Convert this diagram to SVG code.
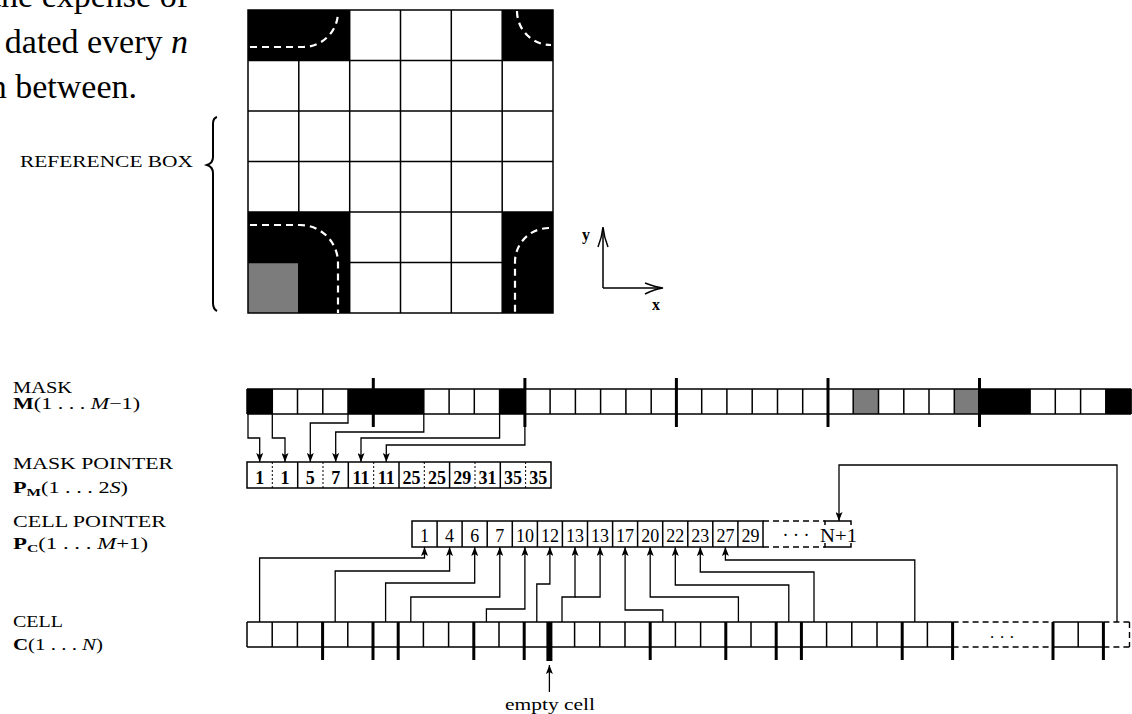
<svg xmlns="http://www.w3.org/2000/svg" width="1132" height="714" viewBox="0 0 1132 714">
<defs>
<style>
text{font-family:"Liberation Serif","Times New Roman",serif;fill:#000}
.ln{stroke:#000;stroke-width:1.5;fill:none}
.thk{stroke:#000;stroke-width:3;fill:none}
.conn{stroke:#000;stroke-width:1.3;fill:none;marker-end:url(#ah)}
.dsh{stroke:#000;stroke-width:1.4;stroke-dasharray:6 4;fill:none}
.dot{stroke:#000;stroke-width:1;stroke-dasharray:2 2;fill:none}
.wd{stroke:#fff;stroke-width:2.2;stroke-dasharray:7 5;fill:none}
.blk{fill:#000}
.gry{fill:#7c7c7c}
.cap{font-size:16px}
.num{font-size:18px;text-anchor:middle}
.nb{font-size:18px;font-weight:bold;text-anchor:middle}
.body{font-size:34px;text-anchor:end}
</style>
<marker id="ah" markerUnits="userSpaceOnUse" markerWidth="9" markerHeight="7" viewBox="0 0 9 7" refX="9" refY="3.5" orient="auto">
<path d="M0,0 L9,3.5 L0,7 L2,3.5 z" fill="#000"/>
</marker>
</defs>
<rect width="1132" height="714" fill="#fff"/>

<g id="body-text">
<text class="body" x="188" y="7">the expense of</text>
<text class="body" x="188" y="53">dated every <tspan font-style="italic">n</tspan></text>
<text class="body" x="137" y="98">n between.</text>
</g>

<g id="reference-label">
<text x="20" y="167" font-size="17" textLength="173" lengthAdjust="spacingAndGlyphs">REFERENCE BOX</text>
<path d="M217,117 Q213,118 213,124 L213,157 Q213,163 207,165 Q213,167 213,173 L213,303 Q213,309 217,311" stroke="#000" stroke-width="2" fill="none"/>
</g>

<g id="grid">
<rect x="248" y="10" width="305" height="303" fill="#fff"/>
<rect x="248" y="10" width="102" height="50.5" class="blk"/>
<rect x="502.2" y="10" width="50.8" height="50.5" class="blk"/>
<rect x="248" y="212" width="102" height="101" class="blk"/>
<rect x="502.2" y="212" width="50.8" height="101" class="blk"/>
<rect x="248" y="262.5" width="50.8" height="50.5" class="gry"/>
<path class="ln" d="M298.8,60.5V313M349.7,10V313M400.5,10V313M451.3,10V313M502.2,10V313M248,60.5H553M248,111H553M248,161.5H553M248,212H553M248,262.5H553"/>
<rect x="248" y="10" width="305" height="303" class="ln" stroke-width="1.7"/>
<path class="wd" d="M250,47 H303 A35,35 0 0 0 338,12"/>
<path class="wd" d="M517,11 A34,34 0 0 0 551,45"/>
<path class="wd" d="M250,225 H300 A38,38 0 0 1 338,263 V313"/>
<path class="wd" d="M549,228 A34,34 0 0 0 515,262 V313"/>
</g>

<g id="axes">
<path class="ln" d="M603,288 V229 M603,288 H661"/>
<path class="ln" d="M598,247 Q602,237 603,227 Q604,237 608,247"/>
<path class="ln" d="M645,283 Q655,287 663,288 Q655,289 645,294"/>
<text x="582" y="240" font-size="16" font-weight="bold">y</text>
<text x="652" y="310" font-size="16" font-weight="bold">x</text>
</g>

<g id="row-labels">
<text class="cap" x="13" y="393" textLength="59" lengthAdjust="spacingAndGlyphs">MASK</text>
<text x="13" y="409" font-size="16" textLength="127" lengthAdjust="spacingAndGlyphs"><tspan font-weight="bold">M</tspan>(1 . . . <tspan font-style="italic">M</tspan>−1)</text>
<text class="cap" x="13" y="469" textLength="160" lengthAdjust="spacingAndGlyphs">MASK POINTER</text>
<text x="13" y="493" font-size="16" textLength="115" lengthAdjust="spacingAndGlyphs"><tspan font-weight="bold">P</tspan><tspan font-weight="bold" font-size="11" dy="3">M</tspan><tspan dy="-3">(1 . . . 2</tspan><tspan font-style="italic">S</tspan>)</text>
<text class="cap" x="13" y="527" textLength="153" lengthAdjust="spacingAndGlyphs">CELL POINTER</text>
<text x="13" y="549" font-size="16" textLength="135" lengthAdjust="spacingAndGlyphs"><tspan font-weight="bold">P</tspan><tspan font-weight="bold" font-size="11" dy="3">C</tspan><tspan dy="-3">(1 . . . </tspan><tspan font-style="italic">M</tspan>+1)</text>
<text class="cap" x="13" y="627" textLength="50" lengthAdjust="spacingAndGlyphs">CELL</text>
<text x="13" y="650" font-size="16" textLength="90" lengthAdjust="spacingAndGlyphs"><tspan font-weight="bold">C</tspan>(1 . . . <tspan font-style="italic">N</tspan>)</text>
</g>

<g id="mask">
<rect x="247" y="389" width="25.3" height="25" class="blk"/>
<rect x="348" y="389" width="75.8" height="25" class="blk"/>
<rect x="499.6" y="389" width="25.3" height="25" class="blk"/>
<rect x="853.2" y="389" width="25.3" height="25" class="gry"/>
<rect x="954.3" y="389" width="25.3" height="25" class="gry"/>
<rect x="979.5" y="389" width="50.6" height="25" class="blk"/>
<rect x="1105.8" y="389" width="25.3" height="25" class="blk"/>
<path class="ln" d="M247,389H1131.1M247,414H1131.1M247,389V414M1131.1,389V414M272.3,389V414M297.5,389V414M322.8,389V414M348,389V414M398.6,389V414M423.8,389V414M449.1,389V414M474.3,389V414M499.6,389V414M550.1,389V414M575.4,389V414M600.6,389V414M625.9,389V414M651.2,389V414M701.7,389V414M726.9,389V414M752.2,389V414M777.5,389V414M802.7,389V414M853.2,389V414M878.5,389V414M903.8,389V414M929,389V414M954.3,389V414M1004.8,389V414M1030.1,389V414M1055.3,389V414M1080.6,389V414M1105.8,389V414"/>
<path class="thk" d="M373.3,378V427M524.9,378V427M676.4,378V427M828,378V427M979.5,378V427"/>
</g>

<g id="mask-pointer">
<rect x="247" y="462" width="304" height="26" class="ln" stroke-width="1.7"/>
<path class="ln" d="M297.7,462V488M348.3,462V488M399,462V488M449.6,462V488M500.3,462V488"/>
<path class="dot" d="M272.3,462V488M323,462V488M373.7,462V488M424.3,462V488M475,462V488M525.6,462V488"/>
<text class="nb" x="259.7" y="484">1</text>
<text class="nb" x="285" y="484">1</text>
<text class="nb" x="310.3" y="484">5</text>
<text class="nb" x="335.7" y="484">7</text>
<text class="nb" x="361" y="484">11</text>
<text class="nb" x="386.3" y="484">11</text>
<text class="nb" x="411.6" y="484">25</text>
<text class="nb" x="437" y="484">25</text>
<text class="nb" x="462.3" y="484">29</text>
<text class="nb" x="487.6" y="484">31</text>
<text class="nb" x="513" y="484">35</text>
<text class="nb" x="538.3" y="484">35</text>
</g>

<g id="cell-pointer">
<rect x="412" y="521" width="351" height="26" class="ln" stroke-width="1.7"/>
<path class="ln" d="M437.1,521V547M462.1,521V547M487.2,521V547M512.3,521V547M537.4,521V547M562.4,521V547M587.5,521V547M612.6,521V547M637.6,521V547M662.7,521V547M687.8,521V547M712.8,521V547M737.9,521V547"/>
<path class="dsh" d="M763,521H825M763,547H825"/>
<path class="ln" d="M825,525V521H851V525M825,543V547H851V543"/>
<text class="num" x="424.5" y="542">1</text>
<text class="num" x="449.6" y="542">4</text>
<text class="num" x="474.7" y="542">6</text>
<text class="num" x="499.8" y="542">7</text>
<text class="num" x="524.9" y="542">10</text>
<text class="num" x="549.9" y="542">12</text>
<text class="num" x="575" y="542">13</text>
<text class="num" x="600.1" y="542">13</text>
<text class="num" x="625.1" y="542">17</text>
<text class="num" x="650.2" y="542">20</text>
<text class="num" x="675.3" y="542">22</text>
<text class="num" x="700.3" y="542">23</text>
<text class="num" x="725.4" y="542">27</text>
<text class="num" x="750.5" y="542">29</text>
<text class="num" x="796" y="541">· · ·</text>
<text x="820" y="542" font-size="18" textLength="37" lengthAdjust="spacingAndGlyphs">N+1</text>
</g>

<g id="cell">
<path class="ln" d="M247,622H952.6M247,647H952.6M247,622V647M272.2,622V647M297.4,622V647M347.8,622V647M423.4,622V647M448.6,622V647M499,622V647M574.6,622V647M599.8,622V647M625,622V647M675.4,622V647M700.6,622V647M751,622V647M826.6,622V647M851.8,622V647M877,622V647M927.4,622V647"/>
<path class="thk" d="M322.6,622V660M373,622V660M398.2,622V660M473.8,622V660M524.2,622V660M650.2,622V660M725.8,622V660M776.2,622V660M801.4,622V660M902.2,622V660M952.6,622V660"/>
<rect x="546.4" y="622" width="6" height="39" class="blk"/>
<path class="dsh" d="M952.6,622H1053M952.6,647H1053M1103.4,622H1130M1103.4,647H1130M1129.5,622V647"/>
<path class="ln" d="M1053,622H1103.4M1053,647H1103.4M1078.2,622V647"/>
<path class="thk" d="M1053,622V660M1103.4,622V660"/>
<text x="1002" y="643" font-size="17" text-anchor="middle">· · ·</text>
</g>

<g id="empty-cell-label">
<path class="conn" d="M549.4,692 V665"/>
<text x="505" y="710" font-size="16" textLength="90" lengthAdjust="spacingAndGlyphs">empty cell</text>
</g>

<g id="connectors">
<path class="conn" d="M248,414 V438 H259.7 V462"/>
<path class="conn" d="M272.3,414 V438 H285 V462"/>
<path class="conn" d="M348,414 V423 H310.3 V462"/>
<path class="conn" d="M423.8,414 V432 H335.7 V462"/>
<path class="conn" d="M499.6,414 V438 H361 V462"/>
<path class="conn" d="M524.9,414 V445 H386.3 V462"/>
<path class="conn" d="M259.6,622 V558 H424.5 V547"/>
<path class="conn" d="M335.2,622 V571 H449.6 V547"/>
<path class="conn" d="M385.6,622 V583 H474.7 V547"/>
<path class="conn" d="M410.8,622 V597 H499.8 V547"/>
<path class="conn" d="M486.4,622 V609 H524.9 V547"/>
<path class="conn" d="M536.8,622 V584 H549.9 V547"/>
<path class="conn" d="M562,622 V597 H575 V547"/>
<path class="conn" d="M575,597 H600.1 V547"/>
<path class="conn" d="M662.8,622 V610 H625.1 V547"/>
<path class="conn" d="M738.4,622 V597 H650.2 V547"/>
<path class="conn" d="M788.8,622 V585 H675.3 V547"/>
<path class="conn" d="M814,622 V572 H700.3 V547"/>
<path class="conn" d="M914.8,622 V560 H725.4 V547"/>
<path class="conn" d="M1117,622 V465 H839 V521"/>
</g>
</svg>
